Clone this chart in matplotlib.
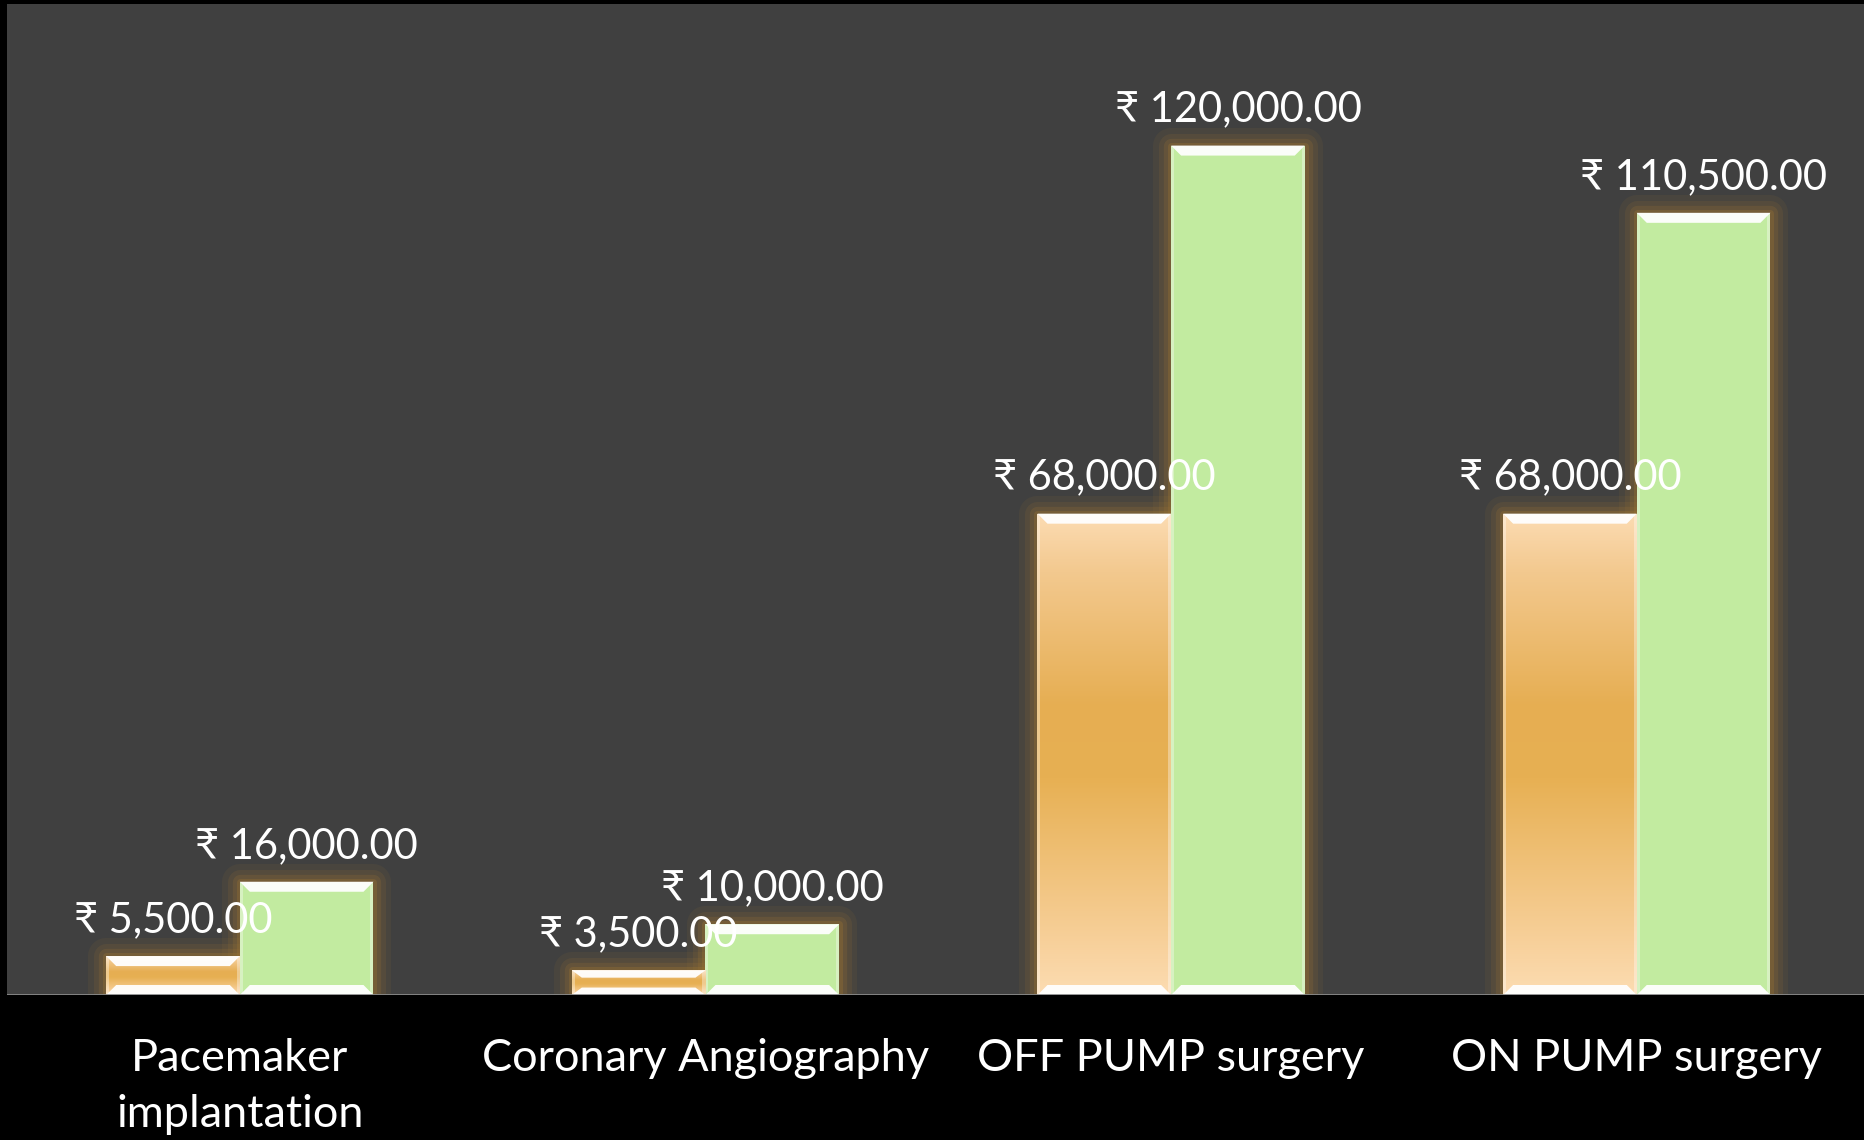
import numpy as np
import matplotlib
matplotlib.use("Agg")
import matplotlib.pyplot as plt
from matplotlib.patches import Rectangle, Polygon
from matplotlib.colors import LinearSegmentedColormap

categories = ["Pacemaker\nimplantation", "Coronary Angiography", "OFF PUMP surgery", "ON PUMP surgery"]
series_a = [5500, 3500, 68000, 68000]      # orange
series_b = [16000, 10000, 120000, 110500]  # green
currency = "\u20b9"

plt.rcParams['font.family'] = ['Lato', 'DejaVu Sans']

W, H, DPI = 1864, 1140, 100
XMAX = 3.488
fig = plt.figure(figsize=(W / DPI, H / DPI), dpi=DPI, facecolor="black")
ax = fig.add_axes([7 / W, (1140 - 995) / H, 1 - 7 / W, (995 - 4) / H])
ax.set_facecolor("#404040")
ax.set_xlim(-0.5, XMAX)
ax.set_ylim(0, 140000)
for s in ax.spines.values():
    s.set_visible(False)
ax.axhline(0, color="#8a8a8a", lw=2, zorder=10)
ax.set_yticks([])
ax.set_xticks([])

# pixel -> data scale
ax_w_px = (1 - 7 / W) * W
ax_h_px = (995 - 4)
px_x = (XMAX + 0.5) / ax_w_px
px_y = 140000 / ax_h_px

bw = 0.287
orange_cmap = LinearSegmentedColormap.from_list(
    "o", [(0, "#fcdcb2"), (0.12, "#f7cf98"), (0.45, "#e7b053"), (0.6, "#e6ae52"),
          (0.88, "#f3c98f"), (1, "#fcdcb3")])
green_face = "#c2eba0"


def glow(x0, w, h):
    for lw, a in [(26, 0.10), (18, 0.15), (11, 0.22), (5, 0.32)]:
        ax.add_patch(Rectangle((x0, 0), w, h, facecolor="none", edgecolor="#9c7433",
                               lw=lw, alpha=a, zorder=2, joinstyle="round"))


def bevels(x0, w, h):
    d = 10
    bh = min(10 * px_y, h * 0.3)
    top = [(x0, h), (x0 + w, h), (x0 + w - d * px_x, h - bh), (x0 + d * px_x, h - bh)]
    ax.add_patch(Polygon(top, closed=True, facecolor="#ffffff", edgecolor="none", alpha=0.95, zorder=6))
    bot = [(x0, 0), (x0 + w, 0), (x0 + w - d * px_x, bh), (x0 + d * px_x, bh)]
    ax.add_patch(Polygon(bot, closed=True, facecolor="#ffffff", edgecolor="none", alpha=0.95, zorder=6))
    ax.add_patch(Rectangle((x0, 0), 3 * px_x, h, facecolor="#ffffff", alpha=0.35, lw=0, zorder=6))
    ax.add_patch(Rectangle((x0 + w - 3 * px_x, 0), 3 * px_x, h, facecolor="#ffffff", alpha=0.35, lw=0, zorder=6))


x = np.arange(len(categories))
grad = np.linspace(0, 1, 256).reshape(-1, 1)

for i in range(len(categories)):
    glow(x[i] - bw, bw, series_a[i])
    glow(x[i], bw, series_b[i])

for i in range(len(categories)):
    xa = x[i] - bw
    xb = x[i]
    ha = series_a[i]
    hb = series_b[i]
    rect = Rectangle((xa, 0), bw, ha, facecolor="#e7b053", lw=0, zorder=4)
    ax.add_patch(rect)
    im = ax.imshow(grad, cmap=orange_cmap, extent=(xa, xa + bw, ha, 0), aspect="auto",
                   zorder=5, origin="upper", interpolation="bilinear")
    im.set_clip_path(rect)
    bevels(xa, bw, ha)
    ax.add_patch(Rectangle((xb, 0), bw, hb, facecolor=green_face, lw=0, zorder=4))
    bevels(xb, bw, hb)

    for xc, v in [(x[i] - bw / 2, ha), (x[i] + bw / 2, hb)]:
        ax.text(xc, v + 36 * px_y, f"{currency} {v:,.2f}", ha="center", va="center",
                color="white", fontsize=30, zorder=12)

ax.set_xlim(-0.5, XMAX)
ax.set_ylim(0, 140000)

for i, c in enumerate(categories):
    fx = (7 + (i + 0.5) * ax_w_px / (XMAX + 0.5)) / W
    fig.text(fx, 1 - 1038 / H, c, ha="center", va="top", color="white", fontsize=32.5,
             linespacing=1.45)

fig.savefig("out.png", dpi=DPI, facecolor="black")
